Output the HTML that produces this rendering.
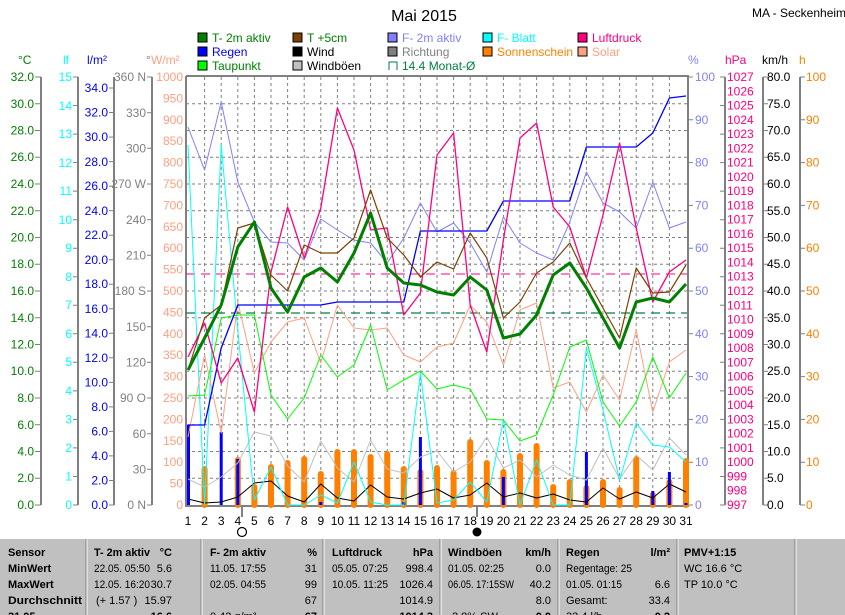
<!DOCTYPE html>
<html><head><meta charset="utf-8"><style>
html,body{margin:0;padding:0;background:#fff;}
svg{display:block;font-family:"Liberation Sans",sans-serif;}
</style></head><body>
<svg width="845" height="615" viewBox="0 0 845 615" xmlns="http://www.w3.org/2000/svg">
<rect width="845" height="615" fill="#fff"/>
<text x="424" y="21" font-size="16" text-anchor="middle">Mai 2015</text>
<text x="752" y="17" font-size="12">MA - Seckenheim</text>

<!-- legend -->
<g font-size="12">
<rect x="198" y="33" width="9" height="9" fill="#008000" stroke="#000"/><text x="212" y="42" fill="#008000">T- 2m aktiv</text>
<rect x="293" y="33" width="9" height="9" fill="#804000" stroke="#000"/><text x="307" y="42" fill="#008000">T +5cm</text>
<rect x="388" y="33" width="9" height="9" fill="#8080ff" stroke="#000"/><text x="402" y="42" fill="#8080ff">F- 2m aktiv</text>
<rect x="483" y="33" width="9" height="9" fill="#00ffff" stroke="#000"/><text x="497" y="42" fill="#00ffff">F- Blatt</text>
<rect x="578" y="33" width="9" height="9" fill="#ff0080" stroke="#000"/><text x="592" y="42" fill="#ff0080">Luftdruck</text>
<rect x="198" y="47" width="9" height="9" fill="#0000ff" stroke="#000"/><text x="212" y="56" fill="#0000ff">Regen</text>
<rect x="293" y="47" width="9" height="9" fill="#000" stroke="#000"/><text x="307" y="56" fill="#000">Wind</text>
<rect x="388" y="47" width="9" height="9" fill="#808080" stroke="#000"/><text x="402" y="56" fill="#808080">Richtung</text>
<rect x="483" y="47" width="9" height="9" fill="#ff8000" stroke="#000"/><text x="497" y="56" fill="#ff8000">Sonnenschein</text>
<rect x="578" y="47" width="9" height="9" fill="#ffa080" stroke="#000"/><text x="592" y="56" fill="#ffa080">Solar</text>
<rect x="198" y="61" width="9" height="9" fill="#00ff00" stroke="#000"/><text x="212" y="70" fill="#008000">Taupunkt</text>
<rect x="293" y="61" width="9" height="9" fill="#c0c0c0" stroke="#000"/><text x="307" y="70" fill="#000">Windböen</text>
<path d="M389 70 V62 H397 V70" fill="none" stroke="#008040"/><text x="402" y="70" fill="#008040">14.4 Monat-Ø</text>
</g>

<!-- axis headers -->
<g font-size="12">
<text x="18" y="64" fill="#008000">°C</text>
<text x="63" y="64" fill="#00ffff">lf</text>
<text x="87" y="64" fill="#0000ff">l/m²</text>
<text x="146" y="64" fill="#808080">°</text>
<text x="151" y="64" fill="#ffa080">W/m²</text>
<text x="688" y="64" fill="#8080ff">%</text>
<text x="725" y="64" fill="#ff0080">hPa</text>
<text x="762" y="64" fill="#000">km/h</text>
<text x="799" y="64" fill="#ff8000">h</text>
</g>

<!-- gridlines -->
<g stroke="#808080" stroke-dasharray="3,3" stroke-width="1">
<path d="M186 478.25H687M186 451.5H687M186 424.75H687M186 398H687M186 371.25H687M186 344.5H687M186 317.75H687M186 291H687M186 264.25H687M186 237.5H687M186 210.75H687M186 184H687M186 157.25H687M186 130.5H687M186 103.75H687"/>
<path d="M204.6 77V505M221.2 77V505M237.8 77V505M254.4 77V505M271 77V505M287.6 77V505M304.2 77V505M320.8 77V505M337.4 77V505M354 77V505M370.6 77V505M387.2 77V505M403.8 77V505M420.4 77V505M437 77V505M453.6 77V505M470.2 77V505M486.8 77V505M503.4 77V505M520 77V505M536.6 77V505M553.2 77V505M569.8 77V505M586.4 77V505M603 77V505M619.6 77V505M636.2 77V505M652.8 77V505M669.4 77V505"/>
</g>

<!-- axes lines -->
<g stroke="#808080" stroke-width="2" fill="none">
<path d="M41 77V505M78 77V505M114 77V505M152 77V505M725 77V505M763 77V505M800 77V505"/>
<path d="M186 76V506H688V76H186"/>
</g>

<!-- tick marks -->
<g stroke="#808080" stroke-width="1">
<path d="M35 505H41M35 478.25H41M35 451.5H41M35 424.75H41M35 398H41M35 371.25H41M35 344.5H41M35 317.75H41M35 291H41M35 264.25H41M35 237.5H41M35 210.75H41M35 184H41M35 157.25H41M35 130.5H41M35 103.75H41M35 77H41"/>
<path d="M73 505H78M73 476.5H78M73 447.9H78M73 419.4H78M73 390.9H78M73 362.3H78M73 333.8H78M73 305.3H78M73 276.7H78M73 248.2H78M73 219.7H78M73 191.1H78M73 162.6H78M73 134.1H78M73 105.5H78M73 77H78"/>
<path d="M109 505H114M109 480.5H114M109 455.9H114M109 431.4H114M109 406.9H114M109 382.4H114M109 357.8H114M109 333.3H114M109 308.8H114M109 284.2H114M109 259.7H114M109 235.2H114M109 210.6H114M109 186.1H114M109 161.6H114M109 137.1H114M109 112.5H114M109 88H114"/>
<path d="M147 505H152M147 469.3H152M147 433.7H152M147 398H152M147 362.3H152M147 326.7H152M147 291H152M147 255.3H152M147 219.7H152M147 184H152M147 148.3H152M147 112.7H152M147 77H152"/>
<path d="M688 505H693M688 462.2H693M688 419.4H693M688 376.6H693M688 333.8H693M688 291H693M688 248.2H693M688 205.4H693M688 162.6H693M688 119.8H693M688 77H693"/>
<path d="M720 505H725M720 476.5H725M720 447.9H725M720 419.4H725M720 390.9H725M720 362.3H725M720 333.8H725M720 305.3H725M720 276.7H725M720 248.2H725M720 219.7H725M720 191.1H725M720 162.6H725M720 134.1H725M720 105.5H725M720 77H725"/>
<path d="M763 505H768M763 478.25H768M763 451.5H768M763 424.75H768M763 398H768M763 371.25H768M763 344.5H768M763 317.75H768M763 291H768M763 264.25H768M763 237.5H768M763 210.75H768M763 184H768M763 157.25H768M763 130.5H768M763 103.75H768M763 77H768"/>
<path d="M800 505H805M800 462.2H805M800 419.4H805M800 376.6H805M800 333.8H805M800 291H805M800 248.2H805M800 205.4H805M800 162.6H805M800 119.8H805M800 77H805"/>
</g>

<!-- left tick labels -->
<g font-size="12" text-anchor="end">
<g fill="#008000">
<text x="34" y="509">0.0</text><text x="34" y="482">2.0</text><text x="34" y="455.5">4.0</text><text x="34" y="429">6.0</text><text x="34" y="402">8.0</text><text x="34" y="375">10.0</text><text x="34" y="348.5">12.0</text><text x="34" y="322">14.0</text><text x="34" y="295">16.0</text><text x="34" y="268">18.0</text><text x="34" y="241.5">20.0</text><text x="34" y="215">22.0</text><text x="34" y="188">24.0</text><text x="34" y="161">26.0</text><text x="34" y="134.5">28.0</text><text x="34" y="108">30.0</text><text x="34" y="81">32.0</text>
</g>
<g fill="#00ffff">
<text x="72" y="509">0</text><text x="72" y="480.5">1</text><text x="72" y="452">2</text><text x="72" y="423.5">3</text><text x="72" y="395">4</text><text x="72" y="366">5</text><text x="72" y="338">6</text><text x="72" y="309">7</text><text x="72" y="281">8</text><text x="72" y="252">9</text><text x="72" y="224">10</text><text x="72" y="195">11</text><text x="72" y="167">12</text><text x="72" y="138">13</text><text x="72" y="110">14</text><text x="72" y="81">15</text>
</g>
<g fill="#0000ff">
<text x="108" y="509">0.0</text><text x="108" y="484.5">2.0</text><text x="108" y="460">4.0</text><text x="108" y="435.5">6.0</text><text x="108" y="411">8.0</text><text x="108" y="386.5">10.0</text><text x="108" y="362">12.0</text><text x="108" y="337.5">14.0</text><text x="108" y="313">16.0</text><text x="108" y="288">18.0</text><text x="108" y="264">20.0</text><text x="108" y="239">22.0</text><text x="108" y="215">24.0</text><text x="108" y="190">26.0</text><text x="108" y="166">28.0</text><text x="108" y="141">30.0</text><text x="108" y="116.5">32.0</text><text x="108" y="92">34.0</text>
</g>
<g fill="#808080">
<text x="146" y="509">0   N</text><text x="146" y="473.5">30</text><text x="146" y="438">60</text><text x="146" y="402">90   O</text><text x="146" y="366.5">120</text><text x="146" y="331">150</text><text x="146" y="295">180  S</text><text x="146" y="259.5">210</text><text x="146" y="224">240</text><text x="146" y="188">270  W</text><text x="146" y="152.5">300</text><text x="146" y="117">330</text><text x="146" y="81">360  N</text>
</g>
<g fill="#ffa080">
<text x="183" y="509">0</text><text x="183" y="487.6">50</text><text x="183" y="466">100</text><text x="183" y="445">150</text><text x="183" y="423.4">200</text><text x="183" y="402">250</text><text x="183" y="380.6">300</text><text x="183" y="359">350</text><text x="183" y="338">400</text><text x="183" y="316.4">450</text><text x="183" y="295">500</text><text x="183" y="273.6">550</text><text x="183" y="252">600</text><text x="183" y="231">650</text><text x="183" y="209.4">700</text><text x="183" y="188">750</text><text x="183" y="166.6">800</text><text x="183" y="145">850</text><text x="183" y="124">900</text><text x="183" y="102.4">950</text><text x="183" y="81">1000</text>
</g>
</g>

<!-- right tick labels -->
<g font-size="12">
<g fill="#8080ff">
<text x="695" y="509">0</text><text x="695" y="466">10</text><text x="695" y="423.4">20</text><text x="695" y="380.6">30</text><text x="695" y="338">40</text><text x="695" y="295">50</text><text x="695" y="252">60</text><text x="695" y="209.4">70</text><text x="695" y="166.6">80</text><text x="695" y="124">90</text><text x="695" y="81">100</text>
</g>
<g fill="#ff0080">
<text x="727" y="509">997</text><text x="727" y="494.7">998</text><text x="727" y="480.5">999</text><text x="727" y="466.2">1000</text><text x="727" y="451.9">1001</text><text x="727" y="437.7">1002</text><text x="727" y="423.4">1003</text><text x="727" y="409.1">1004</text><text x="727" y="394.9">1005</text><text x="727" y="380.6">1006</text><text x="727" y="366.3">1007</text><text x="727" y="352.1">1008</text><text x="727" y="337.8">1009</text><text x="727" y="323.5">1010</text><text x="727" y="309.3">1011</text><text x="727" y="295">1012</text><text x="727" y="280.7">1013</text><text x="727" y="266.5">1014</text><text x="727" y="252.2">1015</text><text x="727" y="237.9">1016</text><text x="727" y="223.7">1017</text><text x="727" y="209.4">1018</text><text x="727" y="195.1">1019</text><text x="727" y="180.9">1020</text><text x="727" y="166.6">1021</text><text x="727" y="152.3">1022</text><text x="727" y="138.1">1023</text><text x="727" y="123.8">1024</text><text x="727" y="109.5">1025</text><text x="727" y="95.3">1026</text><text x="727" y="81">1027</text>
</g>
<g fill="#000">
<text x="767" y="509">0.0</text><text x="767" y="482">5.0</text><text x="767" y="455.5">10.0</text><text x="767" y="429">15.0</text><text x="767" y="402">20.0</text><text x="767" y="375">25.0</text><text x="767" y="348.5">30.0</text><text x="767" y="322">35.0</text><text x="767" y="295">40.0</text><text x="767" y="268">45.0</text><text x="767" y="241.5">50.0</text><text x="767" y="215">55.0</text><text x="767" y="188">60.0</text><text x="767" y="161">65.0</text><text x="767" y="134.5">70.0</text><text x="767" y="108">75.0</text><text x="767" y="81">80.0</text>
</g>
<g fill="#ff8000">
<text x="806" y="509">0</text><text x="806" y="466">10</text><text x="806" y="423.4">20</text><text x="806" y="380.6">30</text><text x="806" y="338">40</text><text x="806" y="295">50</text><text x="806" y="252">60</text><text x="806" y="209.4">70</text><text x="806" y="166.6">80</text><text x="806" y="124">90</text><text x="806" y="81">100</text>
</g>
</g>

<!-- sunshine bars -->
<g stroke="#ff8000" stroke-width="6" stroke-linecap="round">
<path d="M204.6 505V469M237.8 505V460M254.4 505V487M271 505V467M287.6 505V463M304.2 505V459M320.8 505V474M337.4 505V452M354 505V452M370.6 505V457M387.2 505V454M403.8 505V469M420.4 505V472M437 505V468M453.6 505V473M470.2 505V442M486.8 505V463M503.4 505V472M520 505V456M536.6 505V446M553.2 505V487M569.8 505V482M586.4 505V488M603 505V482M619.6 505V490M636.2 505V459M652.8 505V495M669.4 505V482M686 505V461"/>
</g>
<!-- rain bars -->
<g stroke="#0000ff" stroke-width="3">
<path d="M188.5 505V425M221.2 505V432M237.8 505V459M320.8 505V502M403.8 505V502M420.4 505V437M503.4 505V477M586.4 505V452M652.8 505V491M669.4 505V472M686 505V503"/>
</g>

<!-- month averages -->
<path d="M186 274H687" stroke="#ff0080" stroke-dasharray="9,6" stroke-width="1"/>
<path d="M186 313H687" stroke="#008040" stroke-dasharray="9,6" stroke-width="1.2"/>

<g fill="none" stroke-linejoin="round">
<polyline stroke="#c0c0c0" stroke-width="1" points="188,479 204.6,487 221.2,477 237.8,463 254.4,432 271,436 287.6,466 304.2,482 320.8,441 337.4,468 354,482 370.6,440 387.2,469 403.8,473 420.4,457 437,451 453.6,472 470.2,462 486.8,437 503.4,468 520,460 536.6,477 553.2,465 569.8,475 586.4,480 603,448 619.6,479 636.2,455 652.8,470 669.4,438 686,455"/>
<polyline stroke="#000" stroke-width="1" points="188,499 204.6,503 221.2,502 237.8,497 254.4,483 271,481 287.6,496 304.2,502 320.8,484 337.4,498 354,501 370.6,485 387.2,497 403.8,499 420.4,493 437,489 453.6,498 470.2,495 486.8,483 503.4,497 520,493 536.6,498 553.2,494 569.8,500 586.4,502 603,488 619.6,499 636.2,492 652.8,498 669.4,484 686,492"/>
<polyline stroke="#00ffff" stroke-width="1" points="188,145 204.6,505 221.2,145 237.8,330 254.4,500 271,467 287.6,505 304.2,505 320.8,495 337.4,503 354,462 370.6,502 387.2,505 403.8,505 420.4,373 437,503 453.6,500 470.2,482 486.8,502 503.4,420 520,505 536.6,460 553.2,505 569.8,505 586.4,348 603,410 619.6,480 636.2,423 652.8,445 669.4,447 686,462"/>
<polyline stroke="#ffa080" stroke-width="1" points="188,437 204.6,355 221.2,433 237.8,302 254.4,373 271,342 287.6,322 304.2,318 320.8,363 337.4,305 354,328 370.6,330 387.2,328 403.8,355 420.4,362 437,347 453.6,343 470.2,305 486.8,322 503.4,365 520,310 536.6,303 553.2,388 569.8,382 586.4,412 603,375 619.6,400 636.2,330 652.8,412 669.4,362 686,350"/>
<polyline stroke="#00ff00" stroke-width="1" points="188,396 204.6,395 221.2,318 237.8,315 254.4,315 271,395 287.6,419 304.2,398 320.8,355 337.4,377 354,365 370.6,325 387.2,390 403.8,380 420.4,371 437,389 453.6,385 470.2,389 486.8,419 503.4,420 520,441 536.6,435 553.2,395 569.8,347 586.4,340 603,402 619.6,426 636.2,402 652.8,357 669.4,398 686,373"/>
<polyline stroke="#8080ff" stroke-width="1" points="188,127 204.6,170 221.2,102 237.8,182 254.4,222 271,242 287.6,243 304.2,260 320.8,219 337.4,230 354,240 370.6,243 387.2,263 403.8,238 420.4,203 437,232 453.6,223 470.2,243 486.8,272 503.4,217 520,243 536.6,253 553.2,260 569.8,222 586.4,172 603,203 619.6,212 636.2,228 652.8,182 669.4,228 686,222"/>
<polyline stroke="#0000ff" stroke-width="1.3" points="188,425 204.6,425 221.2,348 237.8,305 320.8,305 337.4,302 403.8,302 420.4,231 486.8,231 503.4,201 569.8,201 586.4,147 636.2,147 652.8,133 669.4,98 686,96"/>
<polyline stroke="#ff0080" stroke-width="1.3" points="188,357 204.6,323 221.2,383 237.8,358 254.4,412 271,272 287.6,207 304.2,258 320.8,208 337.4,108 354,150 370.6,230 387.2,228 403.8,315 420.4,293 437,155 453.6,133 470.2,305 486.8,352 503.4,240 520,138 536.6,123 553.2,207 569.8,227 586.4,278 603,215 619.6,143 636.2,228 652.8,302 669.4,272 686,260"/>
<polyline stroke="#804000" stroke-width="1.2" points="188,370 204.6,318 221.2,305 237.8,228 254.4,223 271,275 287.6,291 304.2,245 320.8,253 337.4,253 354,238 370.6,190 387.2,238 403.8,255 420.4,277 437,262 453.6,269 470.2,233 486.8,258 503.4,318 520,302 536.6,273 553.2,262 569.8,243 586.4,278 603,308 619.6,338 636.2,268 652.8,293 669.4,292 686,265"/>
<polyline stroke="#008000" stroke-width="3" points="188,370 204.6,338 221.2,305 237.8,247 254.4,222 271,288 287.6,312 304.2,277 320.8,268 337.4,282 354,253 370.6,213 387.2,268 403.8,283 420.4,285 437,292 453.6,295 470.2,277 486.8,290 503.4,338 520,334 536.6,315 553.2,275 569.8,263 586.4,288 603,318 619.6,348 636.2,302 652.8,298 669.4,302 686,284"/>
</g>

<!-- x labels -->
<g font-size="12" text-anchor="middle">
<text x="188" y="525">1</text><text x="204.6" y="525">2</text><text x="221.2" y="525">3</text><text x="237.8" y="525">4</text><text x="254.4" y="525">5</text><text x="271" y="525">6</text><text x="287.6" y="525">7</text><text x="304.2" y="525">8</text><text x="320.8" y="525">9</text><text x="337.4" y="525">10</text><text x="354" y="525">11</text><text x="370.6" y="525">12</text><text x="387.2" y="525">13</text><text x="403.8" y="525">14</text><text x="420.4" y="525">15</text><text x="437" y="525">16</text><text x="453.6" y="525">17</text><text x="470.2" y="525">18</text><text x="486.8" y="525">19</text><text x="503.4" y="525">20</text><text x="520" y="525">21</text><text x="536.6" y="525">22</text><text x="553.2" y="525">23</text><text x="569.8" y="525">24</text><text x="586.4" y="525">25</text><text x="603" y="525">26</text><text x="619.6" y="525">27</text><text x="636.2" y="525">28</text><text x="652.8" y="525">29</text><text x="669.4" y="525">30</text><text x="686" y="525">31</text>
</g>
<path d="M242 507V517M477 507V517" stroke="#000"/>
<circle cx="242" cy="532" r="4.5" fill="none" stroke="#000" stroke-width="1.2"/>
<circle cx="477" cy="532" r="4.5" fill="#000"/>

<!-- table -->
<rect x="0" y="538" width="845" height="77" fill="#c0c0c0"/>
<path d="M0 538.5H845" stroke="#fff"/>
<g stroke="#808080"><path d="M86 539V615M201 539V615M323 539V615M440 539V615M558 539V615M677 539V615M795 539V615"/></g>
<g stroke="#fff"><path d="M87 539V615M202 539V615M324 539V615M441 539V615M559 539V615M678 539V615M796 539V615"/></g>
<g font-size="11" fill="#000">
<g font-weight="bold">
<text x="8" y="556">Sensor</text><text x="8" y="572">MinWert</text><text x="8" y="588">MaxWert</text><text x="8" y="604" textLength="74" lengthAdjust="spacingAndGlyphs">Durchschnitt</text><text x="8" y="620">31.05.</text>
<text x="94" y="556" textLength="56" lengthAdjust="spacingAndGlyphs">T- 2m aktiv</text><text x="210" y="556" textLength="56" lengthAdjust="spacingAndGlyphs">F- 2m aktiv</text><text x="332" y="556" textLength="50" lengthAdjust="spacingAndGlyphs">Luftdruck</text><text x="448" y="556" textLength="54" lengthAdjust="spacingAndGlyphs">Windböen</text><text x="566" y="556">Regen</text><text x="684" y="556">PMV+1:15</text>
</g>
<g text-anchor="end" font-weight="bold">
<text x="172" y="556">°C</text><text x="317" y="556">%</text><text x="433" y="556">hPa</text><text x="551" y="556">km/h</text><text x="670" y="556">l/m²</text>
</g>
<g textLength="56" lengthAdjust="spacingAndGlyphs">
<text x="94" y="572" textLength="56" lengthAdjust="spacingAndGlyphs">22.05.  05:50</text><text x="94" y="588" textLength="56" lengthAdjust="spacingAndGlyphs">12.05.  16:20</text><text x="96" y="604">(+ 1.57 )</text>
<text x="210" y="572" textLength="56" lengthAdjust="spacingAndGlyphs">11.05.  17:55</text><text x="210" y="588" textLength="56" lengthAdjust="spacingAndGlyphs">02.05.  04:55</text><text x="210" y="620">0.42 g/m³</text>
<text x="332" y="572" textLength="56" lengthAdjust="spacingAndGlyphs">05.05.  07:25</text><text x="332" y="588" textLength="56" lengthAdjust="spacingAndGlyphs">10.05.  11:25</text>
<text x="448" y="572" textLength="56" lengthAdjust="spacingAndGlyphs">01.05.  02:25</text><text x="448" y="588" textLength="66" lengthAdjust="spacingAndGlyphs">06.05.  17:15SW</text><text x="452" y="620">2.8% SW</text>
<text x="566" y="572" textLength="66" lengthAdjust="spacingAndGlyphs">Regentage: 25</text><text x="566" y="588" textLength="56" lengthAdjust="spacingAndGlyphs">01.05.  01:15</text><text x="566" y="604">Gesamt:</text><text x="566" y="620">33.4 l/h</text>
<text x="684" y="572">WC 16.6 °C</text><text x="684" y="588">TP 10.0 °C</text>
</g>
<g text-anchor="end">
<text x="172" y="572">5.6</text><text x="172" y="588">30.7</text><text x="172" y="604">15.97</text><text x="172" y="620" font-weight="bold">16.6</text>
<text x="317" y="572">31</text><text x="317" y="588">99</text><text x="317" y="604">67</text><text x="317" y="620" font-weight="bold">67</text>
<text x="433" y="572">998.4</text><text x="433" y="588">1026.4</text><text x="433" y="604">1014.9</text><text x="433" y="620" font-weight="bold">1014.3</text>
<text x="551" y="572">0.0</text><text x="551" y="588">40.2</text><text x="551" y="604">8.0</text><text x="551" y="620" font-weight="bold">0.0</text>
<text x="670" y="588">6.6</text><text x="670" y="604">33.4</text><text x="670" y="620" font-weight="bold">0.2</text>
</g>
</g>
</svg>
</body></html>
